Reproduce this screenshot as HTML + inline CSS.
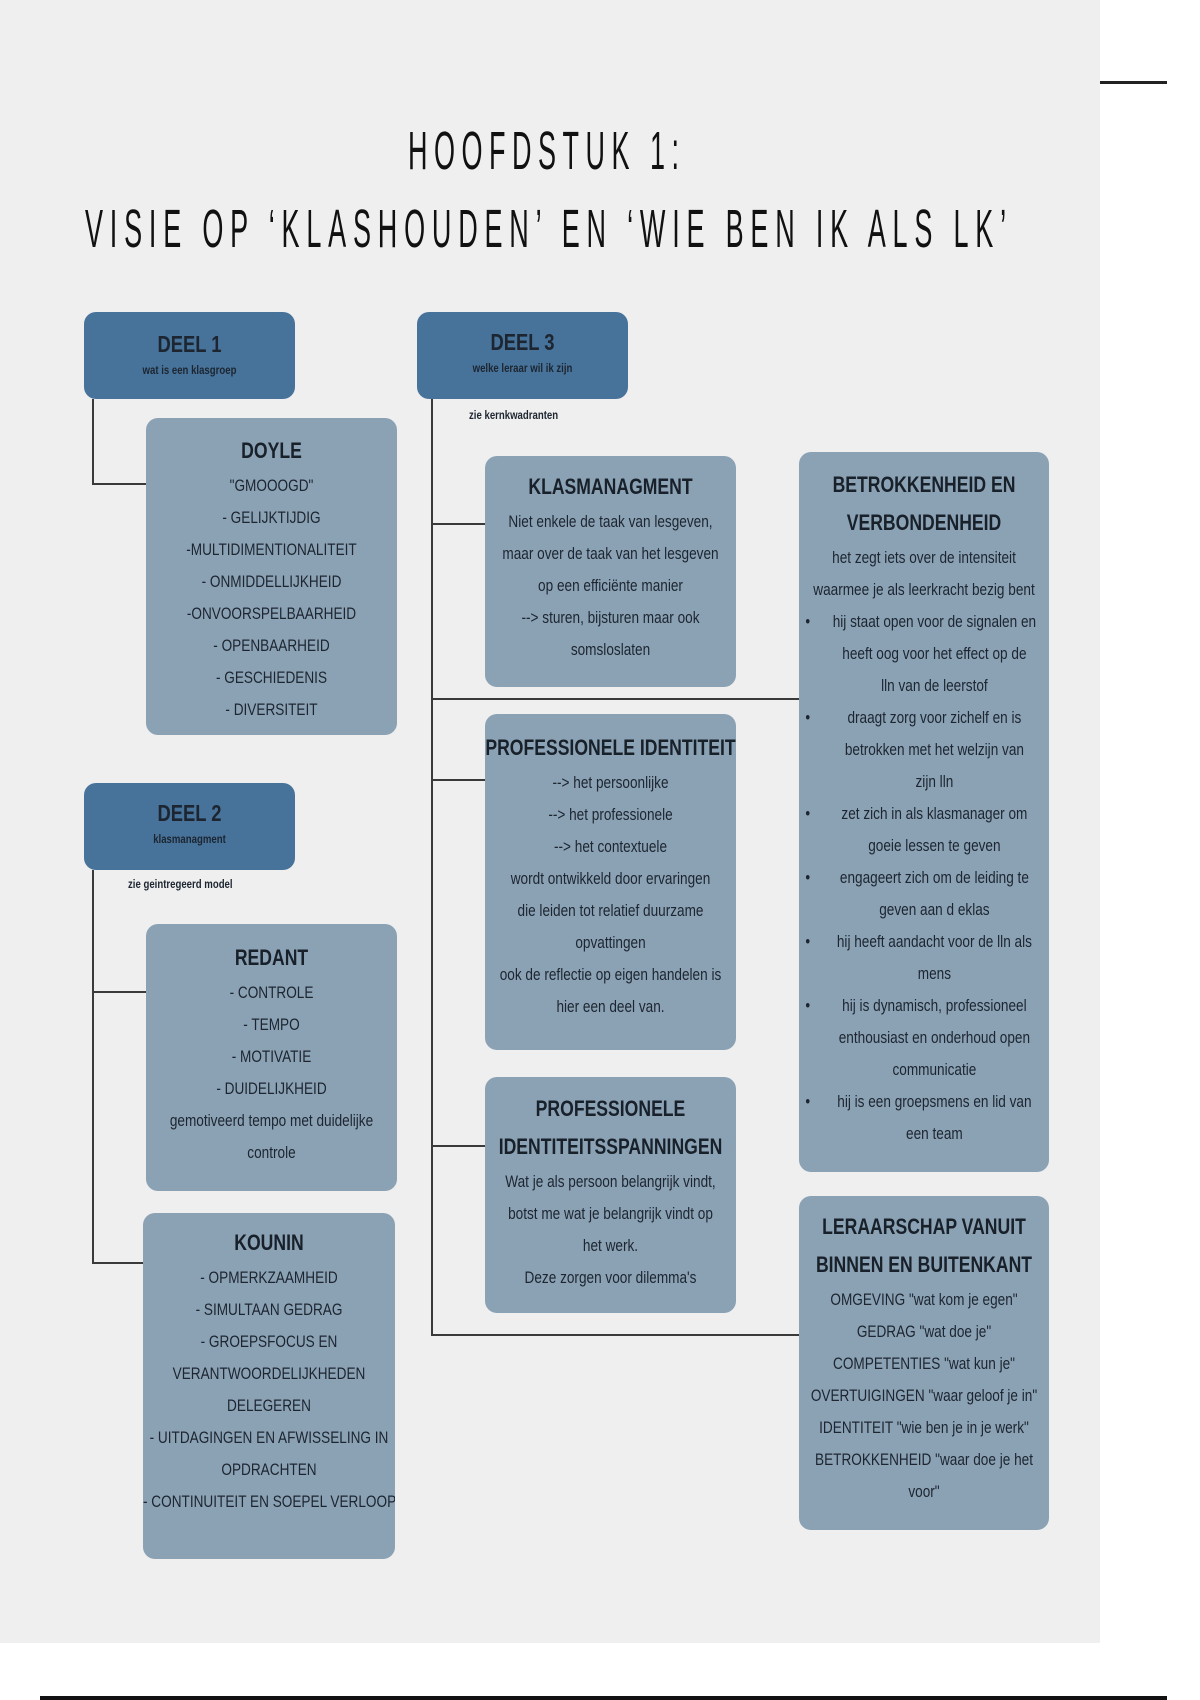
<!DOCTYPE html>
<html><head><meta charset="utf-8"><style>
*{margin:0;padding:0;box-sizing:border-box}
body{width:1200px;height:1700px;background:#fff;position:relative;overflow:hidden;font-family:"Liberation Sans",sans-serif;color:#1c2530}
#panel{position:absolute;left:0;top:0;width:1100px;height:1643px;background:#efefef}
.ln{position:absolute;background:#3a3a3a}
.box{position:absolute;background:#8ba2b5;border-radius:12px;overflow:hidden}
.hd{position:absolute;background:#47739b;border-radius:12px;overflow:hidden;text-align:center}
.in{width:125%;transform:scaleX(.8);transform-origin:0 0;text-align:center}
.t{font-weight:bold;font-size:22px;line-height:38px;color:#18202a}
.c{font-size:17px;line-height:32px;white-space:nowrap}
.b{position:relative;padding-left:26px;white-space:nowrap;font-size:17px;line-height:32px}
.b:before{content:"•";position:absolute;left:8px;top:0}
.s{position:absolute;font-size:12px;font-weight:bold;white-space:nowrap;transform:scaleX(.8);transform-origin:0 0}
.tt{position:absolute;font-size:54px;line-height:54px;white-space:nowrap;color:#111;transform:scaleX(.5);transform-origin:0 0}
</style></head><body>
<div id="panel"></div>
<div class="ln" style="left:1100px;top:81px;width:67px;height:3px;background:#222"></div>
<div class="ln" style="left:40px;top:1696px;width:1127px;height:4px;background:#111"></div>
<div class="tt" style="left:408px;top:124px;letter-spacing:13px">HOOFDSTUK 1:</div>
<div class="tt" style="left:85px;top:202px;letter-spacing:13.6px">VISIE OP ‘KLASHOUDEN’ EN ‘WIE BEN IK ALS LK’</div>
<!-- connectors -->
<div class="ln" style="left:92px;top:399px;width:2px;height:86px"></div>
<div class="ln" style="left:92px;top:483px;width:54px;height:2px"></div>
<div class="ln" style="left:92px;top:870px;width:2px;height:394px"></div>
<div class="ln" style="left:92px;top:991px;width:54px;height:2px"></div>
<div class="ln" style="left:92px;top:1262px;width:52px;height:2px"></div>
<div class="ln" style="left:431px;top:399px;width:2px;height:937px"></div>
<div class="ln" style="left:431px;top:523px;width:54px;height:2px"></div>
<div class="ln" style="left:431px;top:698px;width:369px;height:2px"></div>
<div class="ln" style="left:431px;top:779px;width:54px;height:2px"></div>
<div class="ln" style="left:431px;top:1145px;width:54px;height:2px"></div>
<div class="ln" style="left:431px;top:1334px;width:369px;height:2px"></div>
<!-- headers -->
<div class="hd" style="left:84px;top:312px;width:211px;height:87px"><div class="in" style="padding-top:18px"><div style="font-weight:bold;font-size:23px;line-height:28px">DEEL 1</div><div style="font-weight:bold;font-size:12px;line-height:24px">wat is een klasgroep</div></div></div>
<div class="hd" style="left:417px;top:312px;width:211px;height:87px"><div class="in" style="padding-top:16px"><div style="font-weight:bold;font-size:23px;line-height:28px">DEEL 3</div><div style="font-weight:bold;font-size:12px;line-height:24px">welke leraar wil ik zijn</div></div></div>
<div class="hd" style="left:84px;top:783px;width:211px;height:87px"><div class="in" style="padding-top:16px"><div style="font-weight:bold;font-size:23px;line-height:28px">DEEL 2</div><div style="font-weight:bold;font-size:12px;line-height:24px">klasmanagment</div></div></div>
<div class="s" style="left:469px;top:408px">zie kernkwadranten</div>
<div class="s" style="left:128px;top:877px">zie geintregeerd model</div>
<!-- boxes -->
<div class="box" style="left:146px;top:418px;width:251px;height:317px"><div class="in" style="padding-top:14px"><div class="t">DOYLE</div>
<div class="c">"GMOOOGD"</div><div class="c">- GELIJKTIJDIG</div><div class="c">-MULTIDIMENTIONALITEIT</div><div class="c">- ONMIDDELLIJKHEID</div><div class="c">-ONVOORSPELBAARHEID</div><div class="c">- OPENBAARHEID</div><div class="c">- GESCHIEDENIS</div><div class="c">- DIVERSITEIT</div></div></div>
<div class="box" style="left:146px;top:924px;width:251px;height:267px"><div class="in" style="padding-top:15px"><div class="t">REDANT</div>
<div class="c">- CONTROLE</div><div class="c">- TEMPO</div><div class="c">- MOTIVATIE</div><div class="c">- DUIDELIJKHEID</div><div class="c">gemotiveerd tempo met duidelijke</div><div class="c">controle</div></div></div>
<div class="box" style="left:143px;top:1213px;width:252px;height:346px"><div class="in" style="padding-top:11px"><div class="t">KOUNIN</div>
<div class="c">- OPMERKZAAMHEID</div><div class="c">- SIMULTAAN GEDRAG</div><div class="c">- GROEPSFOCUS EN</div><div class="c">VERANTWOORDELIJKHEDEN</div><div class="c">DELEGEREN</div><div class="c">- UITDAGINGEN EN AFWISSELING IN</div><div class="c">OPDRACHTEN</div><div class="c">- CONTINUITEIT EN SOEPEL VERLOOP</div></div></div>
<div class="box" style="left:485px;top:456px;width:251px;height:231px"><div class="in" style="padding-top:12px"><div class="t">KLASMANAGMENT</div>
<div class="c">Niet enkele de taak van lesgeven,</div><div class="c">maar over de taak van het lesgeven</div><div class="c">op een efficiënte manier</div><div class="c">--&gt; sturen, bijsturen maar ook</div><div class="c">somsloslaten</div></div></div>
<div class="box" style="left:485px;top:714px;width:251px;height:336px"><div class="in" style="padding-top:15px"><div class="t">PROFESSIONELE IDENTITEIT</div>
<div class="c">--&gt; het persoonlijke</div><div class="c">--&gt; het professionele</div><div class="c">--&gt; het contextuele</div><div class="c">wordt ontwikkeld door ervaringen</div><div class="c">die leiden tot relatief duurzame</div><div class="c">opvattingen</div><div class="c">ook de reflectie op eigen handelen is</div><div class="c">hier een deel van.</div></div></div>
<div class="box" style="left:485px;top:1077px;width:251px;height:236px"><div class="in" style="padding-top:13px"><div class="t">PROFESSIONELE</div><div class="t">IDENTITEITSSPANNINGEN</div>
<div class="c">Wat je als persoon belangrijk vindt,</div><div class="c">botst me wat je belangrijk vindt op</div><div class="c">het werk.</div><div class="c">Deze zorgen voor dilemma's</div></div></div>
<div class="box" style="left:799px;top:452px;width:250px;height:720px"><div class="in" style="padding-top:14px"><div class="t">BETROKKENHEID EN</div><div class="t">VERBONDENHEID</div>
<div class="c">het zegt iets over de intensiteit</div><div class="c">waarmee je als leerkracht bezig bent</div>
<div class="b">hij staat open voor de signalen en<br>heeft oog voor het effect op de<br>lln van de leerstof</div>
<div class="b">draagt zorg voor zichelf en is<br>betrokken met het welzijn van<br>zijn lln</div>
<div class="b">zet zich in als klasmanager om<br>goeie lessen te geven</div>
<div class="b">engageert zich om de leiding te<br>geven aan d eklas</div>
<div class="b">hij heeft aandacht voor de lln als<br>mens</div>
<div class="b">hij is dynamisch, professioneel<br>enthousiast en onderhoud open<br>communicatie</div>
<div class="b">hij is een groepsmens en lid van<br>een team</div></div></div>
<div class="box" style="left:799px;top:1196px;width:250px;height:334px"><div class="in" style="padding-top:12px"><div class="t">LERAARSCHAP VANUIT</div><div class="t">BINNEN EN BUITENKANT</div>
<div class="c">OMGEVING "wat kom je egen"</div><div class="c">GEDRAG "wat doe je"</div><div class="c">COMPETENTIES "wat kun je"</div><div class="c">OVERTUIGINGEN "waar geloof je in"</div><div class="c">IDENTITEIT "wie ben je in je werk"</div><div class="c">BETROKKENHEID "waar doe je het</div><div class="c">voor"</div></div></div>
</body></html>
